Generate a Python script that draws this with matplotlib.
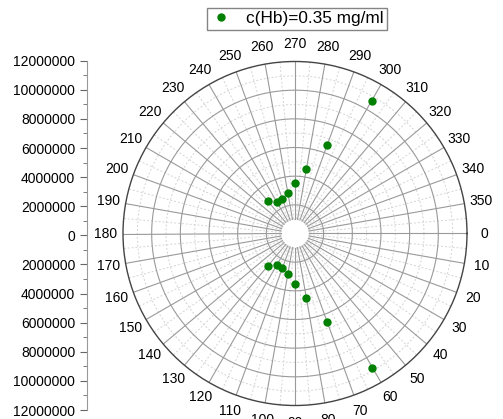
import numpy as np
import matplotlib.pyplot as plt
from matplotlib.ticker import MultipleLocator, FuncFormatter

plt.rcParams['font.family'] = ['Liberation Sans', 'DejaVu Sans']

# data: angle (deg) and radial value
angles = [230, 240, 250, 260, 270, 280, 290, 300,
          130, 120, 110, 100, 90, 80, 70, 60]
values = [2.95e6, 2.55e6, 2.55e6, 2.85e6, 3.5e6, 4.6e6, 6.6e6, 10.7e6,
          2.95e6, 2.55e6, 2.55e6, 2.85e6, 3.5e6, 4.6e6, 6.6e6, 10.8e6]
series_label = "c(Hb)=0.35 mg/ml"
theta_ticks = list(range(0, 360, 10))
r_max = 12e6

fig = plt.figure(figsize=(5.03, 4.19), dpi=100)
ax = fig.add_axes([123 / 503, 13.5 / 419, 344 / 503, 344 / 419], projection='polar')
ax.set_theta_zero_location('E')
ax.set_theta_direction(-1)
ax.set_ylim(0, r_max)
ax.grid(False)
ax.set_yticks([])

full = np.linspace(0, 2 * np.pi, 721)
# minor circles (dashed)
for r in np.arange(1e6, r_max, 2e6):
    ax.plot(full, np.full_like(full, r), color='#d4d4d4', lw=0.7, ls=(0, (2, 2)), zorder=1)
# minor radial lines
for a in range(5, 360, 10):
    t = np.deg2rad(a)
    ax.plot([t, t], [1e6, r_max], color='#d4d4d4', lw=0.7, ls=(0, (2, 2)), zorder=1)
# major circles
for r in np.arange(2e6, r_max, 2e6):
    ax.plot(full, np.full_like(full, r), color='#9a9a9a', lw=0.8, zorder=2)
# major radial lines
for a in theta_ticks:
    t = np.deg2rad(a)
    ax.plot([t, t], [1e6, r_max], color='#9a9a9a', lw=0.8, zorder=2)

ax.spines['polar'].set_color('#444444')
ax.spines['polar'].set_linewidth(1.0)

ax.set_thetagrids(theta_ticks, [str(a) for a in theta_ticks], fontsize=10)
ax.tick_params(axis='x', pad=2.5, labelcolor='black', length=3, width=0.8, color='#444444')

ax.plot(np.deg2rad(angles), values, 'o', color='#008000', ms=5,
        label=series_label, zorder=5, clip_on=False)

# left radial axis
ax2 = fig.add_axes([87 / 503, 9 / 419, 0.001, 349.3 / 419])
ax2.set_ylim(-r_max, r_max)
ax2.set_xticks([])
for s in ['top', 'right', 'bottom']:
    ax2.spines[s].set_visible(False)
ax2.spines['left'].set_color('#999999')
ax2.yaxis.set_major_locator(MultipleLocator(2e6))
ax2.yaxis.set_minor_locator(MultipleLocator(1e6))
ax2.yaxis.set_major_formatter(FuncFormatter(lambda v, p: f"{abs(v):.0f}"))
ax2.tick_params(axis='y', which='major', length=5, color='#666666', labelsize=10)
ax2.tick_params(axis='y', which='minor', length=3, color='#666666')
ax2.patch.set_visible(False)

fig.legend(loc='upper center', bbox_to_anchor=(297 / 503, 1 - 8 / 419),
           borderaxespad=0, frameon=True, fancybox=False, edgecolor='#666666',
           fontsize=12.4, handlelength=1.3, handletextpad=0.8, borderpad=0.2)

fig.savefig('out.png', dpi=100)
